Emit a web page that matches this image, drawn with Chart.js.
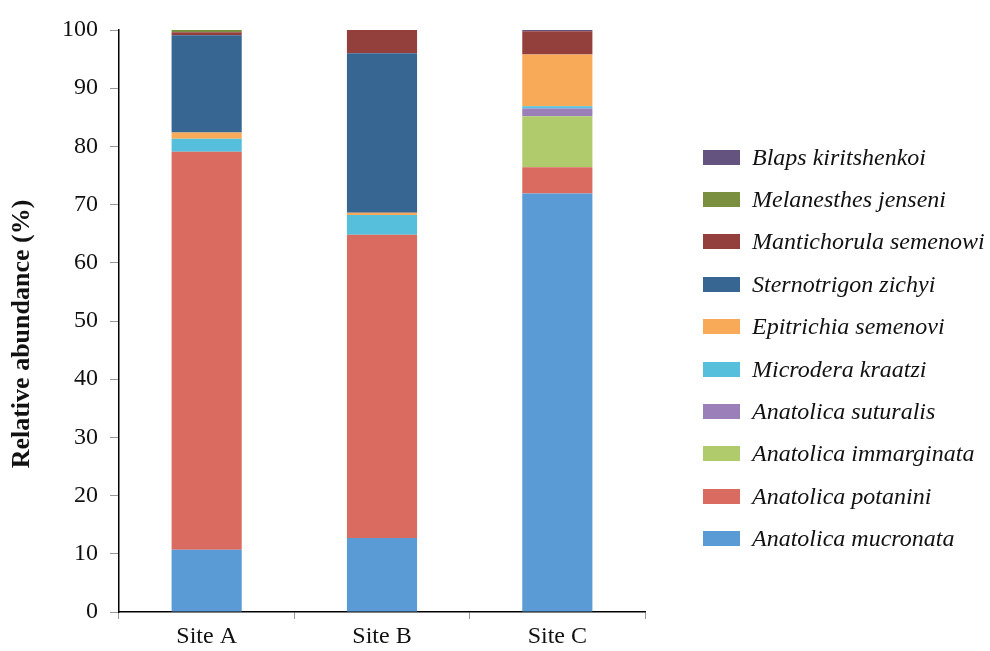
<!DOCTYPE html>
<html>
<head>
<meta charset="utf-8">
<script src="https://cdn.jsdelivr.net/npm/chart.js@4/dist/chart.umd.min.js"></script>
<style>
  body { margin: 0; background: #fff; }
  #wrap { position: relative; width: 990px; height: 651px; }
  #legend { position: absolute; left: 703px; top: 136px; margin: 0; padding: 0; list-style: none;
    font-family: 'Liberation Serif', 'Times New Roman', serif; font-style: italic; font-size: 24px; color: #111; }
  #legend li { height: 42.4px; display: flex; align-items: center; }
  #legend span.box { display: inline-block; width: 37px; height: 15px; margin-right: 12px; }
</style>
</head>
<body>
<div id="wrap">
  <canvas id="chart" width="990" height="651"></canvas>
  <ul id="legend"></ul>
</div>
<script>
const sites = ['Site A', 'Site B', 'Site C'];

// bottom to top of each stack
const species = [
  'Anatolica mucronata', 'Anatolica potanini', 'Anatolica immarginata', 'Anatolica suturalis',
  'Microdera kraatzi', 'Epitrichia semenovi', 'Sternotrigon zichyi', 'Mantichorula semenowi',
  'Melanesthes jenseni', 'Blaps kiritshenkoi'
];

const mucronata = [10.7, 12.7, 71.9];
const potanini = [68.4, 52.1, 4.5];
const immarginata = [0, 0, 8.8];
const suturalis = [0, 0, 1.3];
const kraatzi = [2.2, 3.4, 0.4];
const epitrichia = [1.1, 0.4, 8.9];
const sternotrigon = [16.7, 27.4, 0];
const mantichorula = [0.5, 4.0, 4.0];
const melanesthes = [0.4, 0, 0];
const blaps = [0, 0, 0.2];

const yTicks = [0, 10, 20, 30, 40, 50, 60, 70, 80, 90, 100];

const colors = ['#5B9BD5', '#DA6B60', '#AFCB6B', '#9B7FB9', '#56BFDC', '#F9AA59',
  '#376693', '#933F3B', '#7A8F40', '#65537F'];

const seriesValues = [mucronata, potanini, immarginata, suturalis, kraatzi, epitrichia,
  sternotrigon, mantichorula, melanesthes, blaps];

const datasets = species.map((name, i) => ({
  label: name,
  data: seriesValues[i],
  backgroundColor: colors[i],
  borderWidth: 0,
  barPercentage: 0.4,
  categoryPercentage: 1.0
}));

const serif = "'Liberation Serif', 'Times New Roman', serif";

new Chart(document.getElementById('chart'), {
  type: 'bar',
  data: { labels: sites, datasets },
  options: {
    responsive: false,
    animation: false,
    layout: { padding: { left: 0, right: 345, top: 30, bottom: 0 } },
    plugins: { legend: { display: false }, tooltip: { enabled: false } },
    scales: {
      x: {
        stacked: true,
        offset: true,
        grid: { offset: true, drawOnChartArea: false, color: '#999', tickLength: 7 },
        border: { color: '#000', width: 1.5 },
        ticks: { color: '#111', font: { family: serif, size: 24 }, padding: 3 },
        afterFit: (scale) => { scale.height = 39; }
      },
      y: {
        stacked: true,
        min: 0,
        max: 100,
        afterBuildTicks: (scale) => { scale.ticks = yTicks.map(v => ({ value: v })); },
        grid: { drawOnChartArea: false, color: '#999', tickLength: 9 },
        border: { color: '#000', width: 1.5 },
        ticks: { color: '#111', font: { family: serif, size: 24 }, padding: 12 },
        title: {
          display: true,
          // trailing spaces nudge the rotated title a bit lower, like the original
          text: 'Relative abundance (%)\u00a0\u00a0\u00a0\u00a0',
          color: '#111',
          font: { family: serif, size: 26, weight: 'bold' },
          padding: { top: 7 }
        },
        afterFit: (scale) => { scale.width = 119; }
      }
    }
  }
});

// legend, top entry is the last species
const legendEl = document.getElementById('legend');
species.slice().reverse().forEach((name) => {
  const i = species.indexOf(name);
  const li = document.createElement('li');
  const box = document.createElement('span');
  box.className = 'box';
  box.style.background = colors[i];
  li.appendChild(box);
  li.appendChild(document.createTextNode(name));
  legendEl.appendChild(li);
});
</script>
</body>
</html>
